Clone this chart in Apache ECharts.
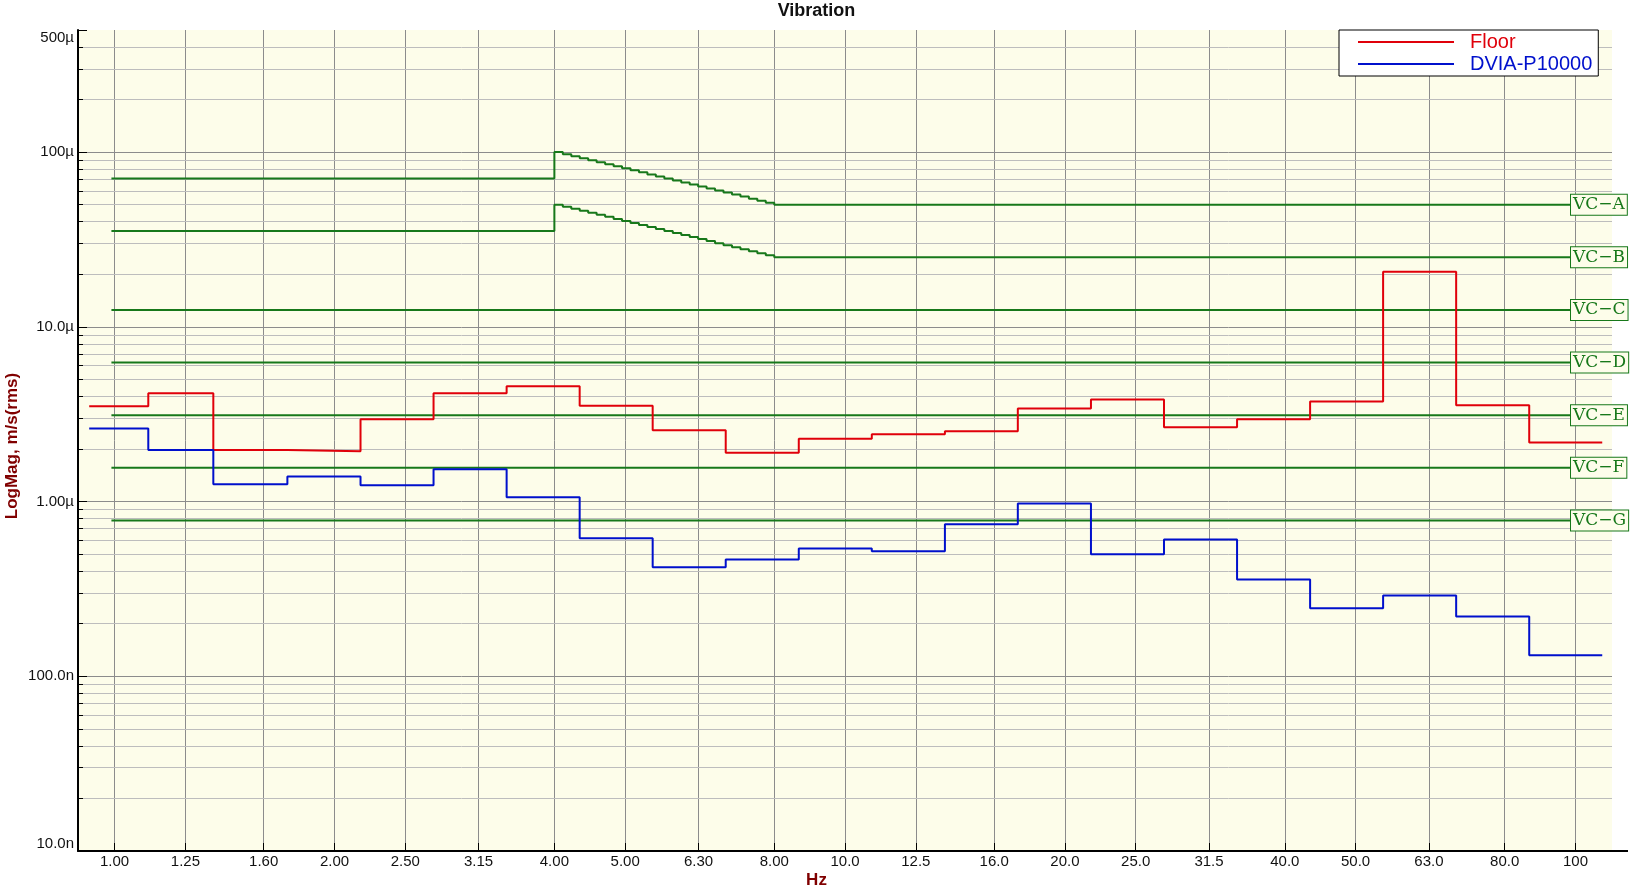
<!DOCTYPE html>
<html><head><meta charset="utf-8">
<script src="https://cdn.jsdelivr.net/npm/echarts@6/dist/echarts.min.js"></script>
<style>html,body{margin:0;padding:0;background:#fff}#c{width:1633px;height:892px}</style>
</head><body><div id="c"></div>
<script>
// third-octave band edges (Hz) as drawn by the staircases
const bandEdgesHz = [0.923,1.112,1.365,1.724,2.171,2.733,3.441,4.332,5.453,6.865,8.643,10.88,13.70,17.24,21.71,27.33,34.41,43.32,54.53,68.65,86.43,108.8];
// band values, µm/s rms
const floorUm = [3.51,4.17,1.97,1.94,2.96,4.17,4.57,3.53,2.56,1.90,2.29,2.43,2.53,3.41,3.84,2.66,2.96,3.74,20.7,3.56,2.18];
const dviaUm  = [2.62,1.97,1.256,1.39,1.24,1.53,1.06,0.616,0.421,0.466,0.538,0.519,0.741,0.974,0.499,0.606,0.358,0.245,0.290,0.220,0.132];

const xTickHz = [1,1.25,1.6,2,2.5,3.15,4,5,6.3,8,10,12.5,16,20,25,31.5,40,50,63,80,100];
const xTickLabels = ['1.00','1.25','1.60','2.00','2.50','3.15','4.00','5.00','6.30','8.00','10.0','12.5','16.0','20.0','25.0','31.5','40.0','50.0','63.0','80.0','100'];
const yTickValues = [1e-8,1e-7,1e-6,1e-5,1e-4,5e-4];
const yTickLabels = ['10.0n','100.0n','1.00µ','10.0µ','100µ','500µ'];
const yMinorValues = [2e-8,3e-8,4e-8,5e-8,6e-8,7e-8,8e-8,9e-8,
  2e-7,3e-7,4e-7,5e-7,6e-7,7e-7,8e-7,9e-7,
  2e-6,3e-6,4e-6,5e-6,6e-6,7e-6,8e-6,9e-6,
  2e-5,3e-5,4e-5,5e-5,6e-5,7e-5,8e-5,9e-5,
  2e-4,3e-4,4e-4];

// VC criteria curves
const vcNames = ['VC\u2212A','VC\u2212B','VC\u2212C','VC\u2212D','VC\u2212E','VC\u2212F','VC\u2212G'];
const vcFlatUm = [50,25,12.5,6.25,3.12,1.56,0.78];
const vcLowUm = [70.7,35.4];
const vcStepHz = [4.000,4.108,4.219,4.333,4.450,4.570,4.694,4.821,4.951,5.085,5.222,5.363,5.508,5.657,5.810,5.967,6.128,6.293,6.463,6.638,6.817,7.002,7.191,7.385,7.584,7.789,8.000];
const vcAStepUm = [100.0,97.37,94.81,92.31,89.89,87.52,85.22,82.98,80.79,78.67,76.60,74.58,72.62,70.71,68.85,67.04,65.28,63.56,61.89,60.26,58.67,57.13,55.63,54.16,52.74,51.35,50.0];
const vcBStepUm = [50.0,48.69,47.41,46.16,44.95,43.76,42.61,41.49,40.40,39.34,38.30,37.29,36.31,35.36,34.43,33.52,32.64,31.78,30.95,30.13,29.34,28.57,27.82,27.08,26.37,25.68,25.0];
const vcStartHz = 0.99, vcEndHz = 98.6;

const U = 1e-6;
const FONT = "'Liberation Sans', Arial, sans-serif";
const GREEN = '#17781A', RED = '#E0000A', BLUE = '#0010CC';

function stepData(vals){
  return bandEdgesHz.map((e,i)=>[e, vals[Math.min(i, vals.length-1)]*U]);
}
function nearestIdx(arr, v, log){
  let best=0, bd=Infinity;
  arr.forEach((a,i)=>{const d = log ? Math.abs(Math.log10(a)-Math.log10(v)) : Math.abs(a-v); if(d<bd){bd=d;best=i;}});
  return best;
}

const vcLabel = {
  show:true, formatter:'{a}', distance:0,
  color:GREEN, fontFamily:"'DejaVu Serif', serif", fontSize:17, lineHeight:17,
  backgroundColor:'#FDFDEA', borderColor:GREEN, borderWidth:1, padding:[1,2,2,2]
};

const series = [];
vcNames.forEach((nm,k)=>{
  let data;
  if (k===0 || k===1){
    const st = k===0 ? vcAStepUm : vcBStepUm;
    data = [[vcStartHz, vcLowUm[k]*U]].concat(vcStepHz.map((f,i)=>[f, st[i]*U])).concat([[vcEndHz, vcFlatUm[k]*U]]);
  } else {
    data = [[vcStartHz, vcFlatUm[k]*U],[vcEndHz, vcFlatUm[k]*U]];
  }
  series.push({type:'line', name:nm, data, step: (k<2?'end':false), symbol:'none', showSymbol:false,
    lineStyle:{color:GREEN, width:2}, itemStyle:{color:GREEN}, z:3, silent:true,
    endLabel: vcLabel});
});
series.push({type:'line', name:'Floor', data:stepData(floorUm), step:'end', symbol:'none', showSymbol:false,
  lineStyle:{color:RED, width:2}, itemStyle:{color:RED}, z:4});
series.push({type:'line', name:'DVIA-P10000', data:stepData(dviaUm), step:'end', symbol:'none', showSymbol:false,
  lineStyle:{color:BLUE, width:2}, itemStyle:{color:BLUE}, z:4});

const chart = echarts.init(document.getElementById('c'), null, {renderer:'canvas'});
chart.setOption({
  animation:false,
  backgroundColor:'#ffffff',
  title:[
    {text:'Vibration', left:'center', top:2, padding:0, textStyle:{fontFamily:FONT, fontSize:18, fontWeight:'bold', color:'#111'}},
    {text:'Hz', left:'center', top:872, padding:0, textStyle:{fontFamily:FONT, fontSize:17, fontWeight:'bold', color:'#800000'}}
  ],
  grid:{left:78, right:21, top:30, bottom:41, show:true, backgroundColor:'#FDFDEA', borderWidth:0},
  legend:{
    orient:'vertical', left:1339, top:30, padding:[2,6,2,19], itemGap:2,
    itemWidth:96, itemHeight:2, itemStyle:{borderWidth:0},
    backgroundColor:'#ffffff', borderColor:'#000', borderWidth:1, z:10,
    textStyle:{fontFamily:FONT, fontSize:20, lineHeight:20, padding:[0,0,0,11]},
    data:[{name:'Floor', icon:'rect', textStyle:{color:RED}},{name:'DVIA-P10000', icon:'rect', textStyle:{color:BLUE}}]
  },
  xAxis:{
    type:'log', min:0.891, max:112.2, logBase:10,
    axisLine:{show:true, onZero:false, lineStyle:{color:'#000', width:2}},
    axisTick:{show:true, inside:true, length:8, lineStyle:{color:'#000', width:1}, customValues:xTickHz},
    axisLabel:{show:true, margin:3, customValues:xTickHz, fontFamily:FONT, fontSize:15, color:'#111',
      formatter:(v)=>xTickLabels[nearestIdx(xTickHz, v, true)]},
    splitLine:{show:true, lineStyle:{color:'#8C8C8C', width:1}},
    minorTick:{show:false}, minorSplitLine:{show:false}
  },
  yAxis:[{
    type:'log', min:1e-8, max:5e-4, logBase:10,
    axisLine:{show:true, onZero:false, lineStyle:{color:'#000', width:2}},
    axisTick:{show:true, inside:true, length:9, lineStyle:{color:'#000', width:1}, customValues:yTickValues},
    axisLabel:{show:true, margin:4, customValues:yTickValues, fontFamily:FONT, fontSize:15, color:'#111',
      verticalAlignMaxLabel:'top', verticalAlignMinLabel:'bottom',
      formatter:(v)=>yTickLabels[nearestIdx(yTickValues, v, true)]},
    splitLine:{show:true, showMaxLine:false, showMinLine:false, lineStyle:{color:'#8C8C8C', width:1}},
    z:2
  },{
    type:'log', min:1e-8, max:5e-4, logBase:10, position:'left',
    axisLine:{show:false},
    axisTick:{show:true, inside:true, length:5, lineStyle:{color:'#000', width:1}, customValues:yMinorValues},
    axisLabel:{show:false, customValues:yMinorValues},
    splitLine:{show:true, lineStyle:{color:'#BDBDBD', width:1}},
    z:1
  }],
  graphic:[
    {type:'text', x:12, y:446, rotation:Math.PI/2, z:10,
     style:{text:'LogMag, m/s(rms)', x:0, y:0, textAlign:'center', textVerticalAlign:'middle',
       font:"bold 17px 'Liberation Sans', Arial, sans-serif", fill:'#800000'}},
    {type:'line', z:10, shape:{x1:1611, y1:851, x2:1628, y2:851}, style:{stroke:'#000', lineWidth:2}}
  ],
  series
});
</script></body></html>
